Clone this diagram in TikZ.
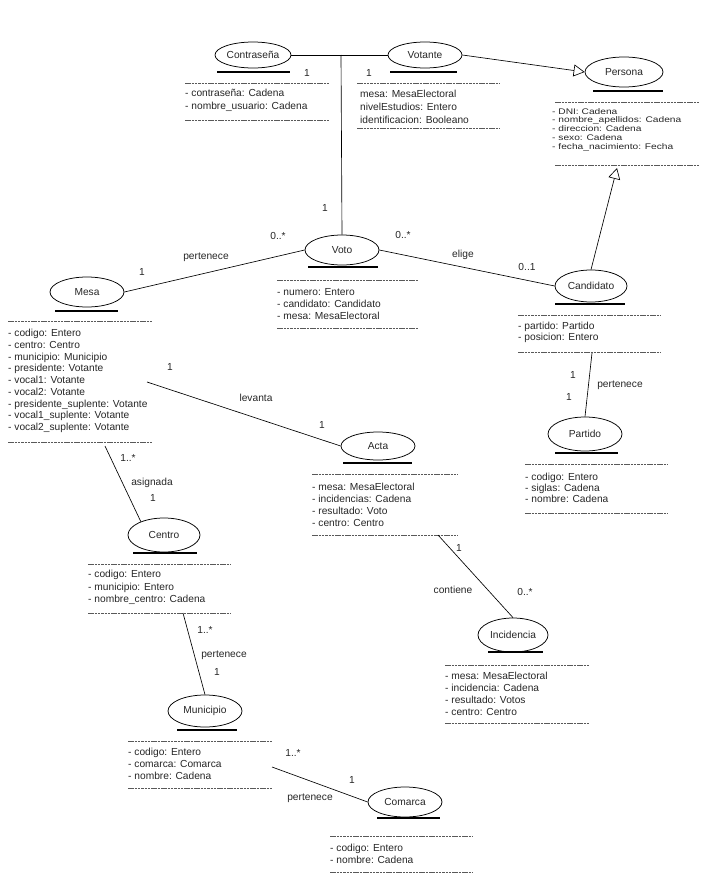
\documentclass[tikz,border=0pt]{standalone}
\usepackage{fontspec}
\setmainfont{Liberation Sans}
\usetikzlibrary{arrows.meta,shapes.geometric}
\tikzset{
  cls/.style={draw, ellipse, line width=0.75pt, inner sep=0pt, text=black!85,
    font=\fontsize{10.2}{11}\selectfont},
  attr/.style={anchor=west, align=left, inner sep=0pt, text=black!85,
    font=\fontsize{10.2}{#1}\selectfont},
  lbl/.style={inner sep=0pt, text=black!85, font=\fontsize{10.2}{11}\selectfont},
  sep/.style={dash pattern=on 2.5pt off 0.8pt, line width=0.5pt, black!65},
  ul/.style={line width=1.4pt},
  conn/.style={line width=0.65pt},
  gen/.style={conn, -{Triangle[open, length=11pt, width=12pt]}}
}
\begin{document}
\begin{tikzpicture}[x=1pt,y=-1pt]
\useasboundingbox (0,0) rectangle (703,878);

% ---------- classes ----------
\node[cls, minimum width=76pt, minimum height=26pt] (contra) at (253,55) {Contraseña};
\node[cls, minimum width=74pt, minimum height=26pt] (votante) at (425,55) {Votante};
\node[cls, minimum width=78pt, minimum height=30pt] (persona) at (624,72) {Persona};
\node[cls, minimum width=74pt, minimum height=30pt] (voto) at (342,250) {Voto};
\node[cls, minimum width=72pt, minimum height=32pt] (cand) at (591,286) {Candidato};
\node[cls, minimum width=74pt, minimum height=30pt] (mesa) at (87,292) {Mesa};
\node[cls, minimum width=74pt, minimum height=34pt] (partido) at (585,434) {Partido};
\node[cls, minimum width=74pt, minimum height=28pt] (acta) at (378,446) {Acta};
\node[cls, minimum width=72pt, minimum height=34pt] (centro) at (164,535) {Centro};
\node[cls, minimum width=70pt, minimum height=34pt] (incid) at (513,635) {Incidencia};
\node[cls, minimum width=74pt, minimum height=32pt] (muni) at (205,711) {Municipio};
\node[cls, minimum width=74pt, minimum height=30pt] (comarca) at (405,802) {Comarca};

% ---------- underlines ----------
\draw[ul] (217,72) -- (290,72);
\draw[ul] (390,72) -- (457,72);
\draw[ul] (593,91) -- (663,91);
\draw[ul] (308,267) -- (378,267);
\draw[ul] (555,304) -- (625,304);
\draw[ul] (55,311) -- (118,311);
\draw[ul] (555,453) -- (618,453);
\draw[ul] (343,463) -- (412,463);
\draw[ul] (133,553) -- (197,553);
\draw[ul] (488,652) -- (543,652);
\draw[ul] (177,730) -- (237,730);
\draw[ul] (377,818) -- (440,818);

% ---------- separators ----------
\draw[sep] (185,83) -- (330,83);  \draw[sep] (185,120) -- (330,120);
\draw[sep] (357,83) -- (500,83);  \draw[sep] (357,128) -- (500,128);
\draw[sep] (555,102) -- (700,102); \draw[sep] (555,165) -- (700,165);
\draw[sep] (277,280) -- (418,280); \draw[sep] (277,328) -- (418,328);
\draw[sep] (8,321) -- (153,321);   \draw[sep] (8,442) -- (153,442);
\draw[sep] (518,315) -- (660,315); \draw[sep] (518,352) -- (660,352);
\draw[sep] (525,464) -- (668,464); \draw[sep] (525,513) -- (668,513);
\draw[sep] (312,474) -- (458,474); \draw[sep] (312,535) -- (458,535);
\draw[sep] (88,564) -- (230,564);  \draw[sep] (88,613) -- (230,613);
\draw[sep] (445,665) -- (590,665); \draw[sep] (445,723) -- (590,723);
\draw[sep] (128,741) -- (272,741); \draw[sep] (128,788) -- (272,788);
\draw[sep] (330,836) -- (472,836); \draw[sep] (330,872) -- (472,872);

% ---------- attributes ----------
\node[attr=13] (contraA) at (185,100.5) {- contraseña: Cadena\\- nombre\_usuario: Cadena};
\node[attr=13] (votanteA) at (360,107) {mesa: MesaElectoral\\nivelEstudios: Entero\\identificacion: Booleano};
\node[attr=11] (personaA) at (552,130) {\scalebox{1}[0.8]{\begin{tabular}{@{}l@{}}- DNI: Cadena\\- nombre\_apellidos: Cadena\\- direccion: Cadena\\- sexo: Cadena\\- fecha\_nacimiento: Fecha\end{tabular}}};
\node[attr=12] (votoA) at (277,304) {- numero: Entero\\- candidato: Candidato\\- mesa: MesaElectoral};
\node[attr=11.75] (mesaA) at (8,381) {- codigo: Entero\\- centro: Centro\\- municipio: Municipio\\- presidente: Votante\\- vocal1: Votante\\- vocal2: Votante\\- presidente\_suplente: Votante\\- vocal1\_suplente: Votante\\- vocal2\_suplente: Votante};
\node[attr=11] (candA) at (518,332.5) {- partido: Partido\\- posicion: Entero};
\node[attr=11] (partidoA) at (525,488) {- codigo: Entero\\- siglas: Cadena\\- nombre: Cadena};
\node[attr=12] (actaA) at (312,505) {- mesa: MesaElectoral\\- incidencias: Cadena\\- resultado: Voto\\- centro: Centro};
\node[attr=12.5] (centroA) at (88,587.5) {- codigo: Entero\\- municipio: Entero\\- nombre\_centro: Cadena};
\node[attr=12] (incidA) at (445,694) {- mesa: MesaElectoral\\- incidencia: Cadena\\- resultado: Votos\\- centro: Centro};
\node[attr=12] (muniA) at (128,764) {- codigo: Entero\\- comarca: Comarca\\- nombre: Cadena};
\node[attr=12] (comarcaA) at (330,854) {- codigo: Entero\\- nombre: Cadena};

% ---------- connector end points ----------
\coordinate (j) at (341,55);
\coordinate (gentip) at (617,168);
\coordinate (mesaR) at (147,382);
\coordinate (mesaB) at (105,446);
\coordinate (centroB) at (183,613);
\coordinate (muniR) at (272,767);
\coordinate (actaB) at (438,535);
\coordinate (candB) at (592,353);

% ---------- connectors ----------
\draw[conn] (contra.east) -- (votante.west);
\draw[conn] (j) -- (voto.north);
\draw[gen] (votante.east) -- (persona.west);
\draw[gen] (cand.north) -- (gentip);
\draw[conn] (mesa.east) -- (voto.west);
\draw[conn] (voto.east) -- (cand.west);
\draw[conn] (mesaR) -- (acta.west);
\draw[conn] (mesaB) -- (centro.150);
\draw[conn] (centroB) -- (muni.north);
\draw[conn] (muniR) -- (comarca.west);
\draw[conn] (actaB) -- (incid.north);
\draw[conn] (candB) -- (partido.north);

% ---------- labels ----------
\node[lbl] (m1) at (307,73) {1};
\node[lbl] (m2) at (369,73) {1};
\node[lbl] (m3) at (325,208) {1};
\node[lbl] (m4) at (278,236) {0..*};
\node[lbl] (m5) at (403,235) {0..*};
\node[lbl] (l1) at (463,255) {elige};
\node[lbl] (m6) at (527,267) {0..1};
\node[lbl] (m7) at (142,272) {1};
\node[lbl] (l2) at (206,257) {pertenece};
\node[lbl] (m8) at (170,367) {1};
\node[lbl] (l3) at (256,398) {levanta};
\node[lbl] (m9) at (322,425) {1};
\node[lbl] (m10) at (128,458) {1..*};
\node[lbl] (l4) at (152,483) {asignada};
\node[lbl] (m11) at (153,498) {1};
\node[lbl] (m12) at (573,375) {1};
\node[lbl] (m13) at (569,397) {1};
\node[lbl] (l5) at (620,385) {pertenece};
\node[lbl] (m14) at (459,548) {1};
\node[lbl] (l6) at (453,590) {contiene};
\node[lbl] (m15) at (525,592) {0..*};
\node[lbl] (m16) at (205,630) {1..*};
\node[lbl] (l7) at (224,655) {pertenece};
\node[lbl] (m17) at (217,672) {1};
\node[lbl] (m18) at (293,753) {1..*};
\node[lbl] (m19) at (352,780) {1};
\node[lbl] (l8) at (310,798) {pertenece};
\end{tikzpicture}
\end{document}
